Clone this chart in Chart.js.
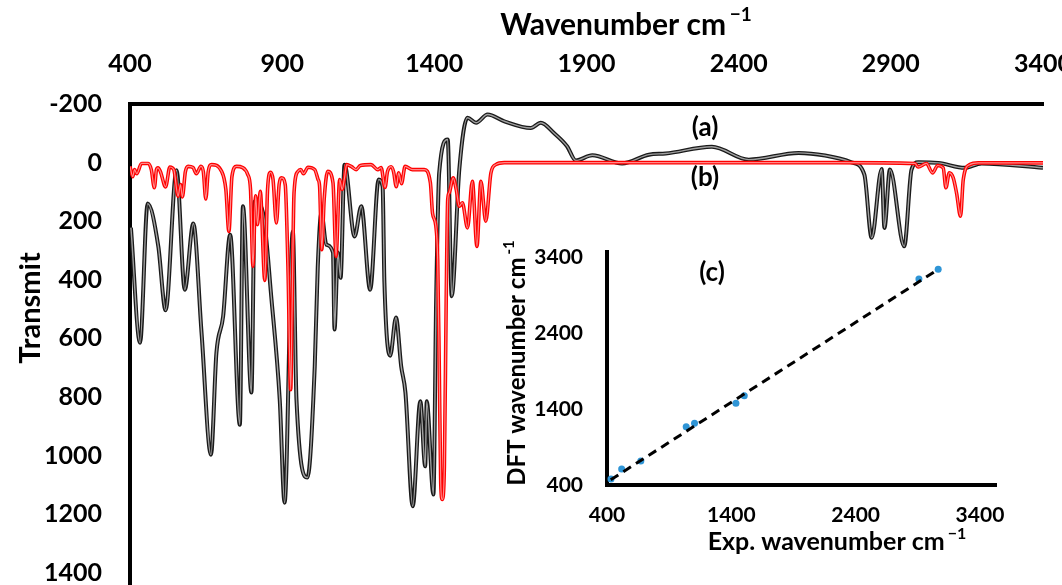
<!DOCTYPE html>
<html>
<head>
<meta charset="utf-8">
<script src="https://cdn.jsdelivr.net/npm/chart.js@4.4.1/dist/chart.umd.min.js"></script>
<style>
  body { margin: 0; background: #fff; overflow: hidden; }
  #wrap { position: relative; width: 1062px; height: 585px; }
  #main { position: absolute; left: 0; top: 0; }
  #inset { position: absolute; left: 470px; top: 225px; }
</style>
</head>
<body>
<div id="wrap">
  <canvas id="main" width="1062" height="585"></canvas>
  <canvas id="inset" width="560" height="360"></canvas>
</div>
<script>
// (a) experimental spectrum, black
const expWave = [403, 433, 458, 493, 517, 553, 580, 608, 635, 666, 684, 706, 729, 761, 771, 799, 810, 837, 865, 892,
  908, 935, 947, 983, 1007, 1017, 1029, 1045, 1067, 1072, 1083, 1092, 1105, 1138, 1160, 1189, 1217, 1230, 1236, 1255,
  1274, 1291, 1305, 1329, 1354, 1370, 1375, 1397, 1406, 1416, 1444, 1457, 1482, 1509, 1537, 1575, 1630, 1717, 1750, 1793,
  1836, 1865, 1919, 2017, 2105, 2160, 2312, 2433, 2597, 2684, 2771, 2813, 2837, 2870, 2879, 2897, 2944, 2968, 2990, 3056,
  3143, 3198, 3400];
const expTransmit = [222, 615, 140, 286, 504, 26, 434, 208, 580, 997, 649, 525, 246, 895, 149, 785, 132, 171, 468, 809,
  1161, 235, 809, 1075, 696, 354, 171, 280, 307, 570, 307, 393, 7, 252, 149, 434, 58, 81, 410, 659,
  529, 695, 785, 1173, 815, 1037, 815, 1133, 468, 34, -79, 456, 24, -153, -136, -164, -141, -118, -136, -101,
  -56, -7, -25, 3, -27, -31, -54, -10, -33, -24, -1, 41, 257, 22, 223, 24, 286, 24, -1, 1,
  18, 3, 18];

// (b) DFT spectrum, red
const dftWave = [400, 409, 415, 422, 438, 460, 470, 480, 487, 492, 500, 517, 531, 544, 558, 566, 572, 582, 591, 607,
  618, 633, 641, 649, 657, 668, 701, 715, 725, 735, 750, 770, 787, 796, 804, 813, 819, 828, 843, 852,
  862, 870, 881, 890, 898, 910, 919, 928, 933, 939, 952, 961, 970, 985, 1007, 1018, 1023, 1030, 1038, 1050,
  1067, 1077, 1089, 1097, 1105, 1112, 1128, 1143, 1157, 1192, 1214, 1225, 1238, 1246, 1258, 1266, 1275, 1283, 1292, 1304,
  1328, 1367, 1387, 1394, 1405, 1411, 1416, 1421, 1426, 1433, 1439, 1444, 1449, 1462, 1472, 1482, 1492, 1509, 1525, 1540,
  1553, 1569, 1586, 1602, 1630, 2728, 2979, 2990, 3017, 3037, 3054, 3072, 3081, 3092, 3105, 3116, 3129, 3138, 3159, 3187,
  3400];
const dftTransmit = [13, 48, 24, 38, 3, 3, 24, 86, 24, 18, 31, 83, 15, 24, 115, 75, 117, 31, 13, 17,
  38, 13, 31, 124, 31, 7, 30, 92, 235, 47, 13, 17, 41, 92, 354, 113, 212, 98, 402, 92,
  33, 58, 206, 75, 52, 75, 354, 775, 468, 103, 30, 24, 38, 16, 24, 58, 81, 297, 126, 30,
  69, 320, 58, 92, 51, 7, 14, 24, 10, 7, 24, 17, 85, 31, 14, 31, 82, 35, 72, 13,
  24, 24, 69, 172, 217, 331, 680, 1093, 1150, 1037, 468, 126, 103, 52, 92, 149, 137, 223, 64, 286,
  64, 200, 35, 7, 0, 0, 3, 15, 3, 35, 10, 18, 86, 35, 52, 104, 183, 58, 7, 1,
  1];

// (c) correlation
const corrExp = [432, 518, 672, 1037, 1104, 1437, 1504, 2909, 3064];
const corrDft = [479, 610, 716, 1167, 1212, 1475, 1575, 3110, 3238];
const trendExp = [430, 3064];
const trendDft = [468, 3238];

const mainTicks = [-200, 0, 200, 400, 600, 800, 1000, 1200, 1400];
const insetTicks = [400, 1400, 2400, 3400];

const FONT = 'Lato';
Chart.defaults.font.family = FONT;
Chart.defaults.color = '#000';

function pts(xs, ys) {
  return xs.map((x, i) => ({ x: x, y: ys[i] }));
}

function lineSet(data, color, width, order) {
  return {
    data: data, borderColor: color, borderWidth: width, pointRadius: 0,
    cubicInterpolationMode: 'monotone', fill: false, order: order
  };
}

const plainNum = v => String(v);

// text with a raised "-1"
function supText(ctx, base, sup, cx, cy, size, rotate) {
  ctx.save();
  ctx.translate(cx, cy);
  if (rotate) ctx.rotate(-Math.PI / 2);
  ctx.font = 'bold ' + size + 'px ' + FONT;
  const w1 = ctx.measureText(base).width;
  ctx.font = 'bold ' + Math.round(size * 0.62) + 'px ' + FONT;
  const w2 = ctx.measureText(sup).width;
  const gap = size * 0.12;
  const x0 = -(w1 + gap + w2) / 2;
  ctx.fillStyle = '#000';
  ctx.textBaseline = 'middle';
  ctx.textAlign = 'left';
  ctx.font = 'bold ' + size + 'px ' + FONT;
  ctx.fillText(base, x0, 0);
  ctx.font = 'bold ' + Math.round(size * 0.62) + 'px ' + FONT;
  ctx.fillText(sup, x0 + w1 + gap, -size * 0.33);
  ctx.restore();
}

function plainText(ctx, txt, cx, cy, size, rotate) {
  ctx.save();
  ctx.translate(cx, cy);
  if (rotate) ctx.rotate(-Math.PI / 2);
  ctx.font = 'bold ' + size + 'px ' + FONT;
  ctx.fillStyle = '#000';
  ctx.textAlign = 'center';
  ctx.textBaseline = 'middle';
  ctx.fillText(txt, 0, 0);
  ctx.restore();
}

const mainLabels = {
  id: 'mainLabels',
  afterDraw(chart) {
    const ctx = chart.ctx;
    supText(ctx, 'Wavenumber cm', '\u22121', 626, 25, 30, false);
    plainText(ctx, 'Transmit', 31, 308, 29, true);
    plainText(ctx, '(a)', 705, 128, 26, false);
    plainText(ctx, '(b)', 705, 178, 26, false);
  }
};

new Chart(document.getElementById('main'), {
  type: 'line',
  data: {
    datasets: [
      lineSet(pts(dftWave, dftTransmit), '#ff8a8a', 1.2, 1),
      lineSet(pts(dftWave, dftTransmit), '#ff0000', 3.6, 2),
      lineSet(pts(expWave, expTransmit), '#a0a0a0', 1.4, 3),
      lineSet(pts(expWave, expTransmit), '#1a1a1a', 4, 4)
    ]
  },
  options: {
    responsive: false,
    animation: false,
    layout: { padding: { left: 0, right: 19, top: 0, bottom: 0 } },
    plugins: { legend: { display: false }, tooltip: { enabled: false } },
    scales: {
      x: {
        type: 'linear', position: 'top', min: 400, max: 3400,
        grid: { display: false, drawTicks: false },
        border: { display: true, color: '#000', width: 4 },
        ticks: { stepSize: 500, padding: 25, font: { size: 25, weight: 'bold' }, maxRotation: 0, callback: plainNum },
        afterFit: s => { s.height = 104; s.paddingLeft = 0; s.paddingRight = 0; }
      },
      y: {
        type: 'linear', reverse: true, min: -200, max: 1442,
        grid: { display: false, drawTicks: false },
        border: { display: true, color: '#000', width: 4 },
        ticks: { padding: 28, font: { size: 25, weight: 'bold' }, callback: plainNum },
        afterBuildTicks: s => { s.ticks = mainTicks.map(v => ({ value: v })); },
        afterFit: s => { s.width = 130; s.paddingTop = 0; s.paddingBottom = 0; }
      }
    }
  },
  plugins: [mainLabels]
});

const insetLabels = {
  id: 'insetLabels',
  afterDraw(chart) {
    const ctx = chart.ctx;
    plainText(ctx, '(c)', 242, 48, 26, false);
    supText(ctx, 'DFT wavenumber cm', '-1', 47, 138, 24, true);
    supText(ctx, 'Exp. wavenumber cm', '\u22121', 367, 317, 25, false);
  }
};

new Chart(document.getElementById('inset'), {
  type: 'scatter',
  data: {
    datasets: [
      {
        data: pts(corrExp, corrDft), backgroundColor: '#2f95d6', borderColor: '#2f95d6',
        pointRadius: 3.5, borderWidth: 0, order: 2
      },
      {
        type: 'line', data: pts(trendExp, trendDft), borderColor: '#000', borderWidth: 3,
        borderDash: [9, 6], pointRadius: 0, fill: false, order: 1
      }
    ]
  },
  options: {
    responsive: false,
    animation: false,
    layout: { padding: { left: 0, right: 34, top: 27, bottom: 0 } },
    plugins: { legend: { display: false }, tooltip: { enabled: false } },
    scales: {
      x: {
        type: 'linear', min: 400, max: 3529,
        grid: { display: false, drawTicks: false },
        border: { display: true, color: '#000', width: 4 },
        ticks: { padding: 18, font: { size: 21, weight: 'bold' }, maxRotation: 0, callback: plainNum },
        afterBuildTicks: s => { s.ticks = insetTicks.map(v => ({ value: v })); },
        afterFit: s => { s.height = 100; s.paddingLeft = 0; s.paddingRight = 0; }
      },
      y: {
        type: 'linear', min: 400, max: 3466,
        grid: { display: false, drawTicks: false },
        border: { display: true, color: '#000', width: 4 },
        ticks: { padding: 24, font: { size: 21, weight: 'bold' }, callback: plainNum },
        afterBuildTicks: s => { s.ticks = insetTicks.map(v => ({ value: v })); },
        afterFit: s => { s.width = 137; s.paddingTop = 0; s.paddingBottom = 0; }
      }
    }
  },
  plugins: [insetLabels]
});
</script>
</body>
</html>
